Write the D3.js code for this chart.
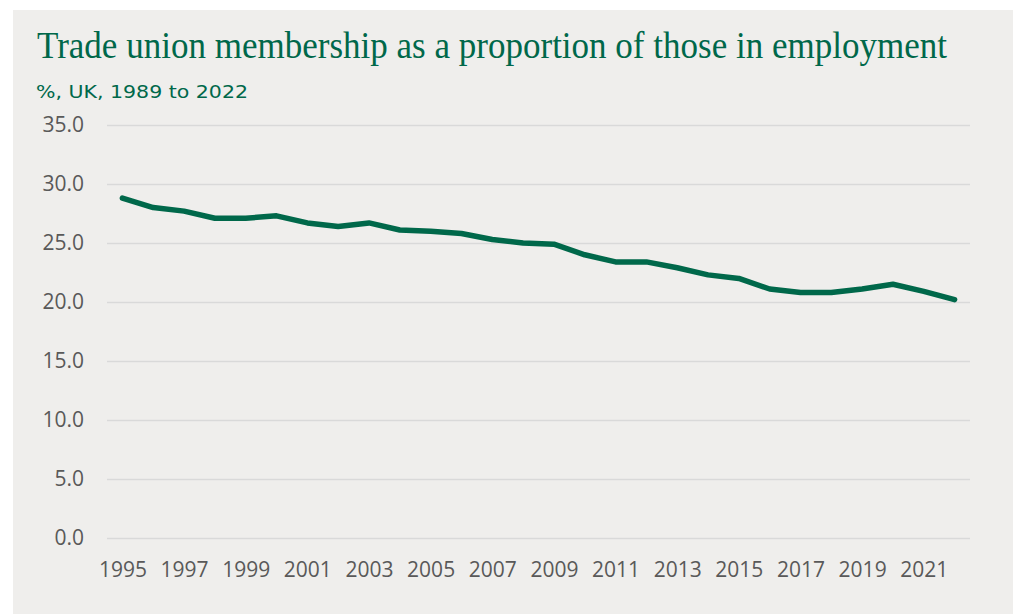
<!DOCTYPE html>
<html>
<head>
<meta charset="utf-8">
<script src="https://cdn.jsdelivr.net/npm/d3@7"></script>
<style>
  body { margin: 0; background: #ffffff; }
</style>
</head>
<body>
<div id="chart"></div>
<script>
// data
const years = [1995, 1996, 1997, 1998, 1999, 2000, 2001, 2002, 2003, 2004, 2005, 2006, 2007, 2008,
    2009, 2010, 2011, 2012, 2013, 2014, 2015, 2016, 2017, 2018, 2019, 2020, 2021, 2022];
const membership = [28.8, 28.0, 27.7, 27.1, 27.1, 27.3, 26.7, 26.4, 26.7, 26.1, 26.0, 25.8, 25.3, 25.0,
    24.9, 24.0, 23.4, 23.4, 22.9, 22.3, 22.0, 21.1, 20.8, 20.8, 21.1, 21.5, 20.9, 20.2];
const yTicks = [0, 5, 10, 15, 20, 25, 30, 35];
const xTickYears = [1995, 1997, 1999, 2001, 2003, 2005, 2007, 2009, 2011, 2013, 2015, 2017, 2019, 2021];

const titleText = "Trade union membership as a proportion of those in employment";
const subtitleText = "%, UK, 1989 to 2022";

const green = "#00684a";
const W = 1016, H = 614;

var svg = d3.select("#chart").append("svg")
    .attr("width", W)
    .attr("height", H);

// grey panel
svg.append("rect")
    .attr("x", 13)
    .attr("y", 10)
    .attr("width", 1000)
    .attr("height", 604)
    .attr("fill", "#efeeec");

// title + subtitle
svg.append("text")
    .attr("x", 37)
    .attr("y", 58)
    .attr("fill", green)
    .attr("font-family", "'Liberation Serif', serif")
    .attr("font-size", 37)
    .attr("textLength", 910)
    .attr("lengthAdjust", "spacingAndGlyphs")
    .text(titleText);

svg.append("text")
    .attr("x", 36)
    .attr("y", 98)
    .attr("fill", green)
    .attr("font-family", "'DejaVu Sans', sans-serif")
    .attr("font-size", 18)
    .attr("textLength", 212)
    .attr("lengthAdjust", "spacingAndGlyphs")
    .text(subtitleText);

var xScale = d3.scalePoint()
    .domain(years)
    .range([107, 970])
    .padding(0.5);

var yScale = d3.scaleLinear()
    .domain([0, 35])
    .range([538, 125]);

// gridlines + y labels
var yAxis = svg.append("g")
    .attr("transform", "translate(107,0)")
    .call(d3.axisLeft(yScale)
        .tickValues(yTicks)
        .tickSize(-(970 - 107))
        .tickPadding(23)
        .tickFormat(d3.format(".1f")));

yAxis.select(".domain").remove();
yAxis.selectAll(".tick line")
    .attr("stroke", "#d9d9d9")
    .attr("stroke-width", 1.5);
yAxis.selectAll(".tick text")
    .attr("fill", "#595959")
    .attr("font-family", "'Open Sans', sans-serif")
    .attr("font-size", 21);

// x labels
var xAxis = svg.append("g")
    .attr("transform", "translate(0,538)")
    .call(d3.axisBottom(xScale)
        .tickValues(xTickYears)
        .tickSize(0)
        .tickPadding(24));

xAxis.select(".domain").remove();
xAxis.selectAll(".tick text")
    .attr("fill", "#595959")
    .attr("font-family", "'Open Sans', sans-serif")
    .attr("font-size", 21);

// the line
var lineGen = d3.line()
    .x(function (d, i) { return xScale(years[i]); })
    .y(function (d) { return yScale(d); });

svg.append("path")
    .attr("fill", "none")
    .attr("stroke", green)
    .attr("stroke-width", 5.5)
    .attr("stroke-linejoin", "round")
    .attr("stroke-linecap", "round")
    .attr("d", lineGen(membership));
</script>
</body>
</html>
